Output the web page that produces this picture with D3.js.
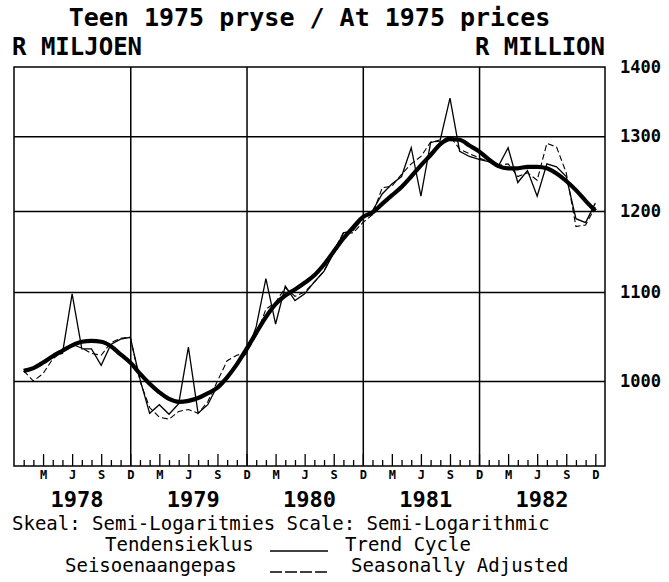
<!DOCTYPE html>
<html><head><meta charset="utf-8">
<script src="https://cdn.jsdelivr.net/npm/d3@7"></script>
<style>
body{margin:0;background:#fff;}
svg{display:block;}
text{font-family:"DejaVu Sans Mono",monospace;font-weight:bold;fill:#000;}
</style></head>
<body><svg id="c" width="669" height="582"></svg>
<script>
// ---- data (monthly, Jan 1978 .. Dec 1982) ----
const years = ["1978","1979","1980","1981","1982"];
const monthLabels = ["M","J","S","D"];
const yTicks = [1000,1100,1200,1300,1400];
const trendCycle = [
 1011,1014,1020,1027,1033,1039,1043,1044,1043,1038,1029,1020,
 1008, 997, 988, 981, 978, 979, 982, 987, 993,1004,1018,1035,
 1053,1071,1086,1096,1103,1111,1120,1133,1149,1165,1179,1192,
 1198,1209,1220,1231,1245,1260,1274,1289,1296,1295,1287,1279,
 1268,1259,1256,1256,1258,1258,1256,1249,1239,1227,1213,1200];
const seasAdj = [
 1010,1013,1020,1028,1030,1098,1035,1035,1017,1040,1046,1048,
 1002, 966, 975, 965, 976,1037, 966, 975, 995,1005,1020,1030,
 1060,1116,1063,1107,1090,1098,1112,1125,1147,1172,1175,1190,
 1200,1222,1235,1245,1284,1219,1291,1295,1354,1279,1272,1268,
 1265,1259,1284,1237,1253,1219,1262,1258,1245,1190,1185,1210];
const seasAdj2 = [
 1011,1000,1008,1024,1032,1040,1036,1030,1028,1042,1047,1048,
 1000, 972, 962, 960, 968, 970, 966, 978,1000,1022,1028,1031,
 1050,1080,1088,1105,1095,1100,1112,1125,1150,1172,1172,1185,
 1195,1230,1232,1248,1262,1272,1292,1293,1300,1282,1276,1270,
 1265,1260,1262,1245,1250,1240,1290,1285,1250,1180,1182,1205];

const svg = d3.select("#c");
const L=14, R=605, T=67, B=466;
const x = d3.scaleLinear().domain([0,61]).range([L,R]);
const y = d3.scaleLog().domain([913,1400]).range([B,T]);

// gridlines
svg.append("g").attr("transform",`translate(${L},0)`)
  .call(d3.axisRight(y).tickValues([1000,1100,1200,1300]).tickSize(R-L).tickFormat(""))
  .call(g=>g.select(".domain").remove())
  .call(g=>g.selectAll("line").attr("stroke","#000").attr("stroke-width",1.5));
svg.append("g").attr("transform",`translate(0,${T})`)
  .call(d3.axisBottom(x).tickValues([12,24,36,48]).tickSize(B-T).tickFormat(""))
  .call(g=>g.select(".domain").remove())
  .call(g=>g.selectAll("line").attr("stroke","#000").attr("stroke-width",1.5));

// frame
svg.append("rect").attr("x",L).attr("y",T).attr("width",R-L).attr("height",B-T)
  .attr("fill","none").attr("stroke","#000").attr("stroke-width",1.5);

// right axis labels
svg.append("g").attr("transform",`translate(${R+12},0)`)
  .call(d3.axisRight(y).tickValues(yTicks).tickSize(0).tickFormat(d3.format("d")))
  .call(g=>g.select(".domain").remove())
  .call(g=>g.selectAll("text").attr("font-size",17).attr("font-family","DejaVu Sans Mono").attr("font-weight","bold").attr("fill","#000"));

// month ticks (inside, upward)
const tickMonths = d3.range(1,61);
svg.append("g").attr("transform",`translate(0,${B})`)
  .call(d3.axisTop(x).tickValues(tickMonths).tickSize(0).tickFormat(""))
  .call(g=>g.select(".domain").remove())
  .call(g=>g.selectAll(".tick line").attr("stroke","#000").attr("stroke-width",1.3)
     .attr("y2",d=>d%3===0?-12:-6));
// month labels
svg.append("g").attr("transform",`translate(0,${B})`)
  .call(d3.axisBottom(x).tickValues(d3.range(3,61,3)).tickSize(0)
     .tickFormat(d=>monthLabels[(d/3-1)%4]))
  .call(g=>g.select(".domain").remove())
  .call(g=>g.selectAll("text").attr("font-size",12).attr("dy","0.85em")
     .attr("font-family","DejaVu Sans Mono").attr("font-weight","bold").attr("fill","#000"));
// year labels
svg.append("g").selectAll("text").data(years).join("text")
  .attr("x",(d,i)=>x(i*12+6.5)).attr("y",507).attr("text-anchor","middle")
  .attr("font-family","DejaVu Sans").attr("font-size",22).text(d=>d);

// lines
const px = (d,i)=>x(i+1);
svg.append("clipPath").attr("id","pc").append("rect")
  .attr("x",L).attr("y",T).attr("width",R-L).attr("height",B-T);
const plot = svg.append("g").attr("clip-path","url(#pc)");
plot.append("path").datum(seasAdj2)
  .attr("d",d3.line().x(px).y(d=>y(d)))
  .attr("fill","none").attr("stroke","#000").attr("stroke-width",1.1).attr("stroke-dasharray","6,3");
plot.append("path").datum(seasAdj)
  .attr("d",d3.line().x(px).y(d=>y(d)))
  .attr("fill","none").attr("stroke","#000").attr("stroke-width",1.3);
plot.append("path").datum(trendCycle)
  .attr("d",d3.line().x(px).y(d=>y(d)).curve(d3.curveMonotoneX))
  .attr("fill","none").attr("stroke","#000").attr("stroke-width",4.2).attr("stroke-linejoin","round");

// titles
svg.append("text").attr("x",(L+R)/2).attr("y",26).attr("font-size",25).attr("text-anchor","middle").text("Teen 1975 pryse / At 1975 prices");
svg.append("text").attr("x",12).attr("y",55).attr("font-size",24).text("R MILJOEN");
svg.append("text").attr("x",605).attr("y",55).attr("font-size",24).attr("text-anchor","end").text("R MILLION");

// footer
const ft = svg.append("g").attr("font-size",19);
ft.append("text").attr("x",12).attr("y",530).style("font-weight","normal").text("Skeal: Semi-Logaritmies Scale: Semi-Logarithmic");
ft.append("text").attr("x",105).attr("y",551).style("font-weight","normal").text("Tendensieklus");
ft.append("text").attr("x",345).attr("y",551).style("font-weight","normal").text("Trend Cycle");
ft.append("text").attr("x",65).attr("y",572).style("font-weight","normal").text("Seisoenaangepas");
ft.append("text").attr("x",351).attr("y",572).style("font-weight","normal").text("Seasonally Adjusted");
svg.append("line").attr("x1",270).attr("x2",328).attr("y1",551).attr("y2",551).attr("stroke","#000").attr("stroke-width",1.5);
svg.append("line").attr("x1",270).attr("x2",328).attr("y1",572).attr("y2",572).attr("stroke","#000").attr("stroke-width",1.5).attr("stroke-dasharray","12,3");
</script></body></html>
